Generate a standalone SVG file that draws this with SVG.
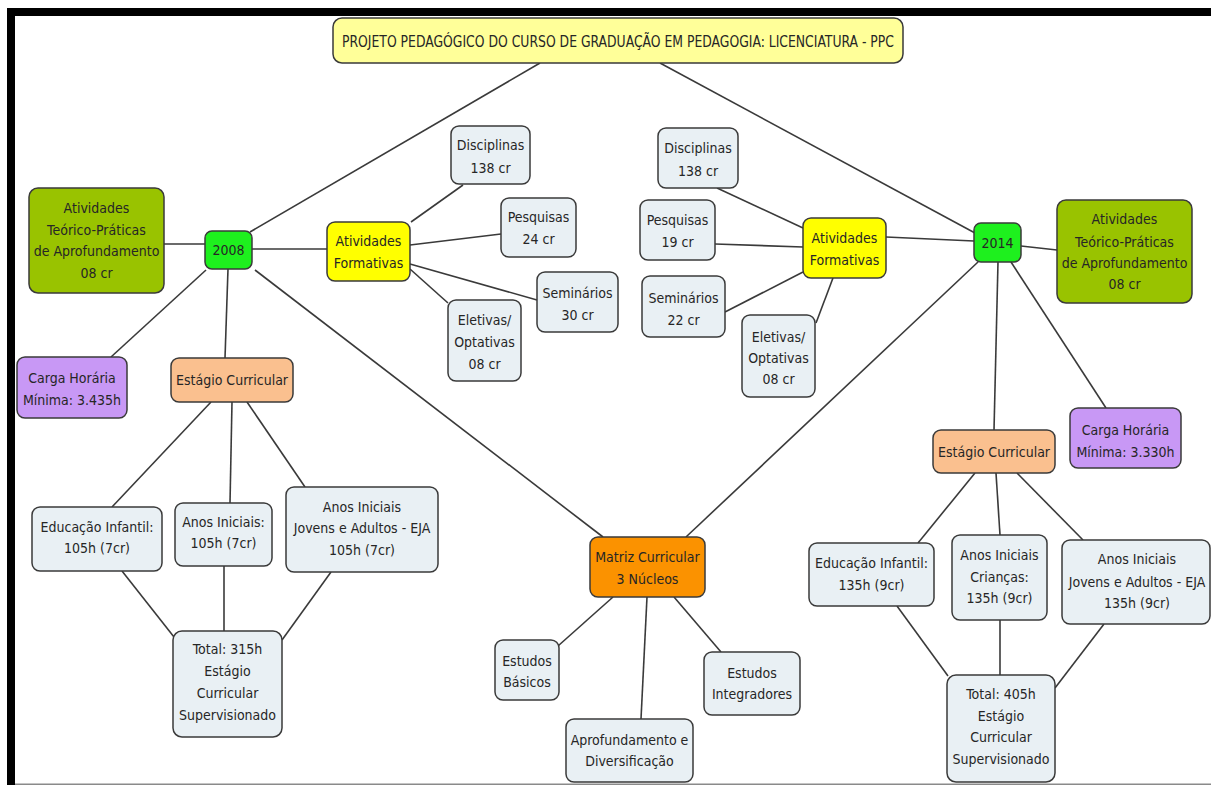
<svg xmlns="http://www.w3.org/2000/svg" width="1211" height="785" viewBox="0 0 1211 785">
<style>
text{font-family:"DejaVu Sans Condensed","DejaVu Sans","Liberation Sans",sans-serif;font-size:14px;fill:#262626;text-anchor:middle}
text.t{font-size:15px}
rect.n{stroke:#3a3a3a;stroke-width:1.5}
.light{fill:#e9f0f4}
.olive{fill:#99c300}
.lime{fill:#1ef01e}
.yel{fill:#ffff00}
.pur{fill:#c898f5}
.peach{fill:#fac08f}
.orange{fill:#fb9200}
.title{fill:#ffff99}
#connectors line{stroke:#3a3a3a;stroke-width:1.6}
</style>
<rect x="0" y="0" width="1211" height="785" fill="#ffffff"/>
<rect x="7" y="8" width="1204" height="8" fill="#000"/>
<rect x="7" y="8" width="8" height="777" fill="#000"/>
<rect x="15" y="783.5" width="1196" height="1.5" fill="#8a8a8a"/>
<g id="connectors">
<line x1="540" y1="63" x2="250" y2="232"/>
<line x1="660" y1="63" x2="975" y2="233"/>
<line x1="164" y1="244" x2="205" y2="244"/>
<line x1="252" y1="249" x2="327" y2="249"/>
<line x1="206" y1="270" x2="111" y2="357"/>
<line x1="228" y1="269" x2="225" y2="358"/>
<line x1="255" y1="270" x2="603" y2="537"/>
<line x1="411" y1="222" x2="463" y2="185"/>
<line x1="410" y1="245" x2="501" y2="234"/>
<line x1="410" y1="264" x2="537" y2="300"/>
<line x1="410" y1="269" x2="448" y2="303"/>
<line x1="211" y1="402" x2="112" y2="507"/>
<line x1="232" y1="402" x2="230" y2="503"/>
<line x1="247" y1="402" x2="305" y2="487"/>
<line x1="122" y1="571" x2="174" y2="637"/>
<line x1="224" y1="566" x2="224" y2="631"/>
<line x1="331" y1="572" x2="282" y2="640"/>
<line x1="613" y1="597" x2="558" y2="646"/>
<line x1="647" y1="597" x2="641" y2="719"/>
<line x1="674" y1="597" x2="721" y2="652"/>
<line x1="717" y1="188" x2="803" y2="228"/>
<line x1="715" y1="244" x2="803" y2="247"/>
<line x1="725" y1="312" x2="803" y2="272"/>
<line x1="816" y1="323" x2="833" y2="278"/>
<line x1="886" y1="237" x2="974" y2="241"/>
<line x1="978" y1="262" x2="686" y2="537"/>
<line x1="998" y1="262" x2="994" y2="430"/>
<line x1="1021" y1="246" x2="1057" y2="250"/>
<line x1="1011" y1="262" x2="1106" y2="408"/>
<line x1="975" y1="473" x2="918" y2="543"/>
<line x1="996" y1="473" x2="1000" y2="535"/>
<line x1="1017" y1="473" x2="1083" y2="540"/>
<line x1="897" y1="606" x2="948" y2="676"/>
<line x1="1000" y1="620" x2="1000" y2="675"/>
<line x1="1104" y1="624" x2="1055" y2="688"/>
</g>
<g id="title"><rect class="n title" x="333" y="18" width="570" height="45" rx="9"/><text class="t" x="618" y="47" textLength="552" lengthAdjust="spacingAndGlyphs">PROJETO PEDAGÓGICO DO CURSO DE GRADUAÇÃO EM PEDAGOGIA: LICENCIATURA - PPC</text></g>
<g id="n2008"><rect class="n lime" x="205" y="231" width="47" height="38" rx="7"/><text x="228.5" y="255">2008</text></g>
<g id="tp2008"><rect class="n olive" x="29" y="188" width="135" height="105" rx="9"/><text x="96.5" y="213">Atividades</text><text x="96.5" y="235">Teórico-Práticas</text><text x="96.5" y="256">de Aprofundamento</text><text x="96.5" y="278">08 cr</text></g>
<g id="af2008"><rect class="n yel" x="327" y="222" width="83" height="59" rx="8"/><text x="368.5" y="246">Atividades</text><text x="368.5" y="268">Formativas</text></g>
<g id="disc2008"><rect class="n light" x="451" y="126" width="79" height="58" rx="8"/><text x="490.5" y="150">Disciplinas</text><text x="490.5" y="173">138 cr</text></g>
<g id="pesq2008"><rect class="n light" x="501" y="198" width="75" height="59" rx="8"/><text x="538.5" y="222">Pesquisas</text><text x="538.5" y="244">24 cr</text></g>
<g id="sem2008"><rect class="n light" x="537" y="272" width="81" height="60" rx="8"/><text x="577.5" y="298">Seminários</text><text x="577.5" y="320">30 cr</text></g>
<g id="elet2008"><rect class="n light" x="448" y="300" width="73" height="81" rx="8"/><text x="484.5" y="325">Eletivas/</text><text x="484.5" y="347">Optativas</text><text x="484.5" y="369">08 cr</text></g>
<g id="carga2008"><rect class="n pur" x="17" y="357" width="110" height="61" rx="8"/><text x="72" y="383">Carga Horária</text><text x="72" y="405">Mínima: 3.435h</text></g>
<g id="est2008"><rect class="n peach" x="171" y="358" width="122" height="44" rx="8"/><text x="232" y="385">Estágio Curricular</text></g>
<g id="edu2008"><rect class="n light" x="32" y="507" width="130" height="64" rx="8"/><text x="97" y="532">Educação Infantil:</text><text x="97" y="553">105h (7cr)</text></g>
<g id="anos2008"><rect class="n light" x="175" y="503" width="97" height="63" rx="8"/><text x="223.5" y="527">Anos Iniciais:</text><text x="223.5" y="548">105h (7cr)</text></g>
<g id="eja2008"><rect class="n light" x="286" y="487" width="152" height="85" rx="8"/><text x="362" y="512">Anos Iniciais</text><text x="362" y="533">Jovens e Adultos - EJA</text><text x="362" y="555">105h (7cr)</text></g>
<g id="total2008"><rect class="n light" x="173" y="631" width="109" height="106" rx="9"/><text x="227.5" y="654">Total: 315h</text><text x="227.5" y="676">Estágio</text><text x="227.5" y="698">Curricular</text><text x="227.5" y="720">Supervisionado</text></g>
<g id="matriz"><rect class="n orange" x="590" y="537" width="115" height="60" rx="8"/><text x="647.5" y="562">Matriz Curricular</text><text x="647.5" y="584">3 Núcleos</text></g>
<g id="basicos"><rect class="n light" x="495" y="640" width="64" height="60" rx="8"/><text x="527" y="666">Estudos</text><text x="527" y="687">Básicos</text></g>
<g id="integradores"><rect class="n light" x="704" y="652" width="96" height="63" rx="8"/><text x="752" y="678">Estudos</text><text x="752" y="699">Integradores</text></g>
<g id="aprof"><rect class="n light" x="566" y="719" width="127" height="63" rx="8"/><text x="629.5" y="745">Aprofundamento e</text><text x="629.5" y="766">Diversificação</text></g>
<g id="disc2014"><rect class="n light" x="658" y="128" width="80" height="60" rx="8"/><text x="698" y="153">Disciplinas</text><text x="698" y="176">138 cr</text></g>
<g id="pesq2014"><rect class="n light" x="640" y="200" width="75" height="60" rx="8"/><text x="677.5" y="225">Pesquisas</text><text x="677.5" y="247">19 cr</text></g>
<g id="sem2014"><rect class="n light" x="642" y="276" width="83" height="61" rx="8"/><text x="683.5" y="303">Seminários</text><text x="683.5" y="325">22 cr</text></g>
<g id="elet2014"><rect class="n light" x="742" y="315" width="73" height="82" rx="8"/><text x="778.5" y="342">Eletivas/</text><text x="778.5" y="363">Optativas</text><text x="778.5" y="384">08 cr</text></g>
<g id="af2014"><rect class="n yel" x="803" y="218" width="83" height="60" rx="8"/><text x="844.5" y="243">Atividades</text><text x="844.5" y="265">Formativas</text></g>
<g id="n2014"><rect class="n lime" x="974" y="223" width="47" height="39" rx="7"/><text x="997.5" y="248">2014</text></g>
<g id="tp2014"><rect class="n olive" x="1057" y="200" width="135" height="103" rx="9"/><text x="1124.5" y="224">Atividades</text><text x="1124.5" y="247">Teórico-Práticas</text><text x="1124.5" y="268">de Aprofundamento</text><text x="1124.5" y="289">08 cr</text></g>
<g id="carga2014"><rect class="n pur" x="1070" y="408" width="111" height="60" rx="8"/><text x="1125.5" y="435">Carga Horária</text><text x="1125.5" y="457">Mínima: 3.330h</text></g>
<g id="est2014"><rect class="n peach" x="933" y="430" width="122" height="43" rx="8"/><text x="994" y="457">Estágio Curricular</text></g>
<g id="edu2014"><rect class="n light" x="809" y="543" width="125" height="63" rx="8"/><text x="871.5" y="568">Educação Infantil:</text><text x="871.5" y="590">135h (9cr)</text></g>
<g id="anos2014"><rect class="n light" x="952" y="535" width="95" height="85" rx="8"/><text x="999.5" y="560">Anos Iniciais</text><text x="999.5" y="582">Crianças:</text><text x="999.5" y="603">135h (9cr)</text></g>
<g id="eja2014"><rect class="n light" x="1062" y="540" width="148" height="84" rx="8"/><text x="1137" y="564">Anos Iniciais</text><text x="1137" y="587">Jovens e Adultos - EJA</text><text x="1137" y="608">135h (9cr)</text></g>
<g id="total2014"><rect class="n light" x="947" y="675" width="108" height="107" rx="9"/><text x="1001" y="699">Total: 405h</text><text x="1001" y="721">Estágio</text><text x="1001" y="742">Curricular</text><text x="1001" y="764">Supervisionado</text></g>
</svg>
